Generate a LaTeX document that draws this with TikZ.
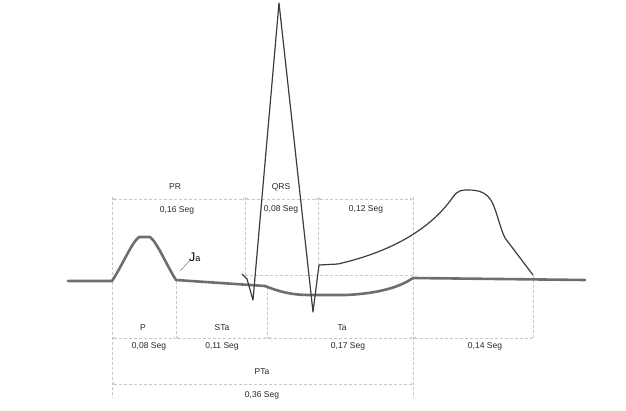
\documentclass[tikz,border=0pt]{standalone}
\usepackage{fontspec}
\setmainfont{Liberation Sans}
\usetikzlibrary{arrows.meta}
\definecolor{dimgray}{HTML}{C8C8C8}
\definecolor{wave}{HTML}{6E6E6E}
\definecolor{spike}{HTML}{3C3C3C}
\begin{document}
\begin{tikzpicture}[x=1pt,y=-1pt,
  dimline/.style={draw=dimgray,dash pattern=on 3pt off 2pt,line width=0.8pt},
  dimarrow/.style={dimline,{Latex[length=2.5pt,width=2.5pt]}-{Latex[length=2.5pt,width=2.5pt]}},
  lbl/.style={font=\fontsize{8.5}{9}\selectfont,text=black!85,inner sep=0pt},
  thickwave/.style={draw=wave,line width=2.6pt,line join=round,line cap=round},
  thinwave/.style={draw=spike,line width=1.2pt,line join=round}]
\useasboundingbox (0,0) rectangle (626,411);
% coordinates
\coordinate (tL) at (112,199);
\coordinate (tPR) at (245,199);
\coordinate (tQ) at (318,199);
\coordinate (tR) at (413,199);
\coordinate (bL) at (112,338);
\coordinate (bP) at (176,338);
\coordinate (bS) at (267,338);
\coordinate (bT) at (413,338);
\coordinate (bE) at (533,338);
\coordinate (pL) at (112,384);
\coordinate (pR) at (413,384);
% vertical dashed guides
\draw[dimline] (112,197) -- (112,398);
\draw[dimline] (245,197) -- (245,276);
\draw[dimline] (318,197) -- (318,265);
\draw[dimline] (413,197) -- (413,398);
\draw[dimline] (176,281) -- (176,338);
\draw[dimline] (267,287) -- (267,338);
\draw[dimline] (533,275) -- (533,338);
\draw[dimline] (245,275) -- (413,275);
% dimension lines
\draw[dimarrow] (tL) -- (tPR);
\draw[dimarrow] (tPR) -- (tQ);
\draw[dimarrow] (tQ) -- (tR);
\draw[dimarrow] (bL) -- (bP);
\draw[dimarrow] (bP) -- (bS);
\draw[dimarrow] (bS) -- (bT);
\draw[dimarrow] (bT) -- (bE);
\draw[dimarrow] (pL) -- (pR);
% waves
\draw[thickwave] (68,281) -- (112,281)
  .. controls (122,266) and (132,242) .. (139,237) -- (150,237)
  .. controls (157,242) and (167,266) .. (176,280)
  -- (265,286) .. controls (280,292) and (292,295) .. (310,295)
  -- (345,295) .. controls (372,294) and (397,289) .. (413,278) -- (585,280);
\draw[thinwave] (242,274) -- (247,279) -- (253,300) -- (279,3) -- (313,312) -- (319,265) -- (338,264)
  .. controls (390,252) and (430,230) .. (453,197)
  .. controls (458,190) and (462,190) .. (468,190)
  .. controls (480,190) and (487,193) .. (492,202)
  .. controls (497,212) and (500,228) .. (505,238) -- (533,275);
% labels
\node[lbl] (lPR) at (175,187) {PR};
\node[lbl] (vPR) at (177,210) {0,16 Seg};
\node[lbl] (lQRS) at (281,187) {QRS};
\node[lbl] (vQRS) at (281,209) {0,08 Seg};
\node[lbl] (v12) at (366,209) {0,12 Seg};
\node[lbl] (lP) at (143,328) {P};
\node[lbl] (vP) at (149,346) {0,08 Seg};
\node[lbl] (lSTa) at (222,328) {STa};
\node[lbl] (vSTa) at (222,346) {0,11 Seg};
\node[lbl] (lTa) at (342,328) {Ta};
\node[lbl] (vTa) at (348,346) {0,17 Seg};
\node[lbl] (v14) at (485,346) {0,14 Seg};
\node[lbl] (lPTa) at (262,372) {PTa};
\node[lbl] (vPTa) at (262,395) {0,36 Seg};
\node[inner sep=0pt,anchor=base west] (Ja) at (189,262) {\fontsize{12.5}{12}\selectfont J\fontsize{9}{9}\selectfont a};
\coordinate (Jend) at (180,271);
\draw[draw=dimgray!70!black,line width=0.6pt] (Ja.south west) ++(1,-2) -- (Jend);
\end{tikzpicture}
\end{document}
